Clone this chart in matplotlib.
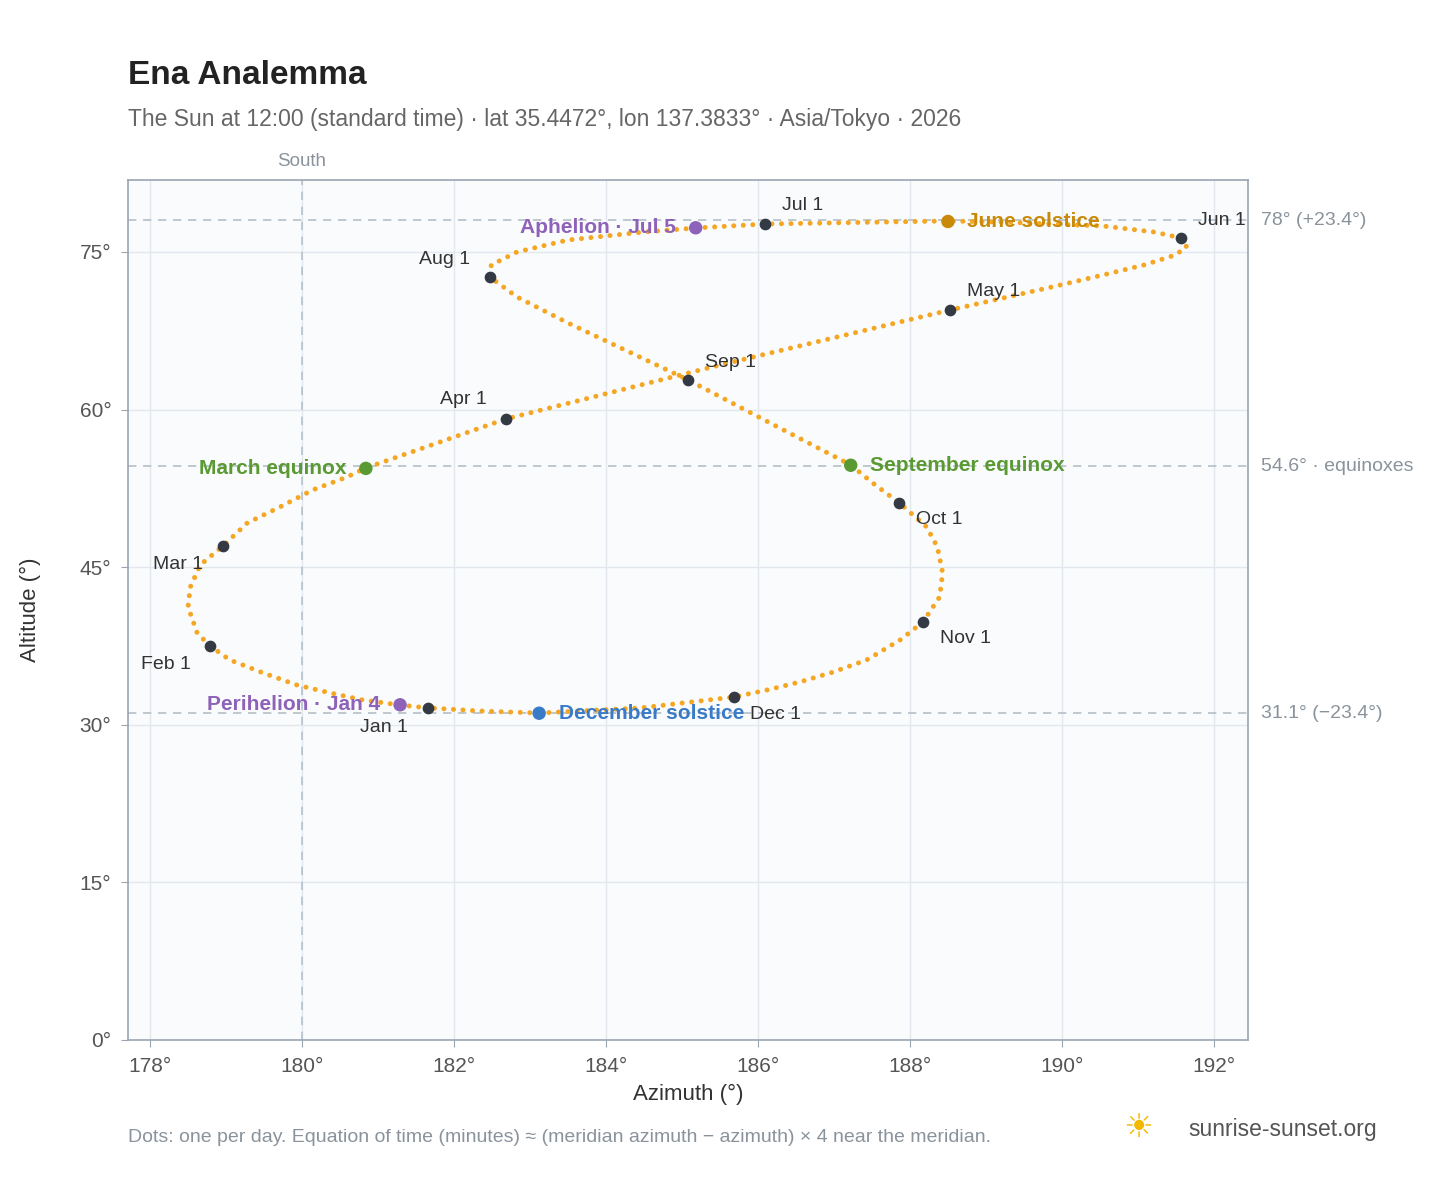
import matplotlib
matplotlib.use("Agg")
import matplotlib.pyplot as plt

plt.rcParams['font.family'] = ['Liberation Sans', 'DejaVu Sans']

# path samples (azimuth, altitude), Jan 1 -> Dec 31
path_az = [181.66, 181.29, 180.80, 180.37, 179.93, 179.49, 179.05, 178.79, 178.62, 178.50, 178.53, 178.66,
           178.96, 179.28, 179.71, 180.14, 180.59, 180.84, 182.68, 185.50, 188.53, 189.87, 190.54, 191.08,
           191.49, 191.64, 191.57, 191.21, 190.54, 189.20, 188.50, 186.09, 185.18, 184.50, 183.50, 182.83,
           182.49, 182.47, 182.83, 183.50, 185.08, 186.16, 187.22, 187.51, 187.86, 188.22, 188.36, 188.43,
           188.39, 188.17, 187.87, 187.43, 186.99, 186.55, 186.12, 185.68, 184.45, 183.12, 182.34, 181.68]
path_alt = [31.60, 31.88, 32.36, 33.03, 33.79, 34.93, 36.17, 37.50, 38.74, 41.21, 43.11, 45.21,
            47.02, 49.21, 50.73, 52.35, 53.58, 54.44, 59.10, 64.24, 69.48, 71.67, 72.81, 73.76,
            74.71, 75.47, 76.33, 76.90, 77.47, 77.85, 77.95, 77.66, 77.28, 76.90, 76.14, 75.00,
            73.76, 72.62, 70.71, 68.24, 62.82, 58.72, 54.73, 53.01, 51.11, 48.82, 46.92, 44.45,
            42.16, 39.78, 38.07, 36.17, 35.02, 34.07, 33.31, 32.64, 31.60, 31.12, 31.31, 31.60]

months = ["Jan 1", "Feb 1", "Mar 1", "Apr 1", "May 1", "Jun 1", "Jul 1", "Aug 1", "Sep 1", "Oct 1", "Nov 1", "Dec 1"]
month_az = [181.66, 178.79, 178.96, 182.68, 188.53, 191.57, 186.09, 182.47, 185.08, 187.86, 188.17, 185.68]
month_alt = [31.6, 37.5, 47.0, 59.1, 69.5, 76.3, 77.7, 72.6, 62.8, 51.1, 39.8, 32.6]
month_off = [(-32, -14), (-14, -13), (-14, -13), (-14, 14), (12, 13), (12, 13), (12, 13), (-14, 13), (12, 13), (12, -12), (12, -12), (12, -12)]
month_ha = ["center", "right", "right", "right", "left", "left", "left", "right", "left", "left", "left", "left"]

events = ["June solstice", "December solstice", "March equinox", "September equinox", "Aphelion · Jul 5", "Perihelion · Jan 4"]
ev_az = [188.50, 183.12, 180.84, 187.22, 185.18, 181.29]
ev_alt = [77.9, 31.1, 54.4, 54.7, 77.3, 31.9]
ev_col = ["#c98a0a", "#3a7bc8", "#5a9a32", "#5a9a32", "#8e62b8", "#8e62b8"]
ev_side = ["left", "left", "right", "left", "right", "right"]

ref_alt = [78.0, 54.6, 31.1]
ref_lbl = ["78° (+23.4°)", "54.6° · equinoxes", "31.1° (−23.4°)"]

fig = plt.figure(figsize=(14.48, 11.88), dpi=100)
ax = fig.add_axes([0.0884, 0.1246, 0.7736, 0.7239])
ax.set_facecolor("#f9fbfd")
ax.set_xlim(177.71, 192.45)
ax.set_ylim(0, 81.85)
ax.set_xticks(range(178, 193, 2))
ax.set_xticklabels([f"{v}°" for v in range(178, 193, 2)])
ax.set_yticks(range(0, 80, 15))
ax.set_yticklabels([f"{v}°" for v in range(0, 80, 15)])
ax.grid(color="#e3e8ee", lw=1)
ax.set_axisbelow(True)
for s in ax.spines.values():
    s.set_color("#9aa5b1"); s.set_linewidth(1.2)
ax.tick_params(colors="#555", labelsize=15, length=5, pad=7, color="#9aa5b1")
ax.set_xlabel("Azimuth (°)", fontsize=16, color="#333", labelpad=6)
ax.set_ylabel("Altitude (°)", fontsize=16, color="#333", labelpad=28)

for a, l in zip(ref_alt, ref_lbl):
    ax.axhline(a, color="#b5bec8", ls=(0, (5, 4)), lw=1.2)
    ax.annotate(l, (1, a), xycoords=("axes fraction", "data"), xytext=(9, 0), textcoords="offset points",
                va="center", ha="left", fontsize=14, color="#8a939c", annotation_clip=False)
ax.axvline(180, color="#b5c2cc", ls=(0, (5, 4)), lw=1.2)
ax.annotate("South", (180, 1), xycoords=("data", "axes fraction"), xytext=(0, 10), textcoords="offset points",
            ha="center", fontsize=13.5, color="#8a939c", annotation_clip=False)

ax.plot(path_az, path_alt, color="#f5a623", lw=3.6, ls=(0, (0.01, 1.9)), dash_capstyle="round", zorder=3)

ax.scatter(month_az, month_alt, s=55, color="#333a44", zorder=5)
for m, x, y, o, h in zip(months, month_az, month_alt, month_off, month_ha):
    ax.annotate(m, (x, y), xytext=o, textcoords="offset points", ha=h, va="center", fontsize=14, color="#333")

ax.scatter(ev_az, ev_alt, s=75, color=ev_col, zorder=6)
for e, x, y, c, sd in zip(events, ev_az, ev_alt, ev_col, ev_side):
    off = 14 if sd == "left" else -14
    ax.annotate(e, (x, y), xytext=(off, 0), textcoords="offset points", ha=sd, va="center",
                fontsize=15, fontweight="bold", color=c, zorder=7)

fig.text(0.0884, 0.929, "Ena Analemma", fontsize=24, fontweight="bold", color="#222")
fig.text(0.0884, 0.894, "The Sun at 12:00 (standard time) · lat 35.4472°, lon 137.3833° · Asia/Tokyo · 2026",
         fontsize=16.5, color="#666")
fig.text(0.0884, 0.039, "Dots: one per day. Equation of time (minutes) ≈ (meridian azimuth − azimuth) × 4 near the meridian.",
         fontsize=14, color="#8a939c")
fig.text(0.821, 0.044, "sunrise-sunset.org", fontsize=16.5, color="#555")
fig.text(0.776, 0.042, "☀", fontsize=24, color="#f5b800", family="DejaVu Sans")
fig.savefig("out.png", dpi=100)
